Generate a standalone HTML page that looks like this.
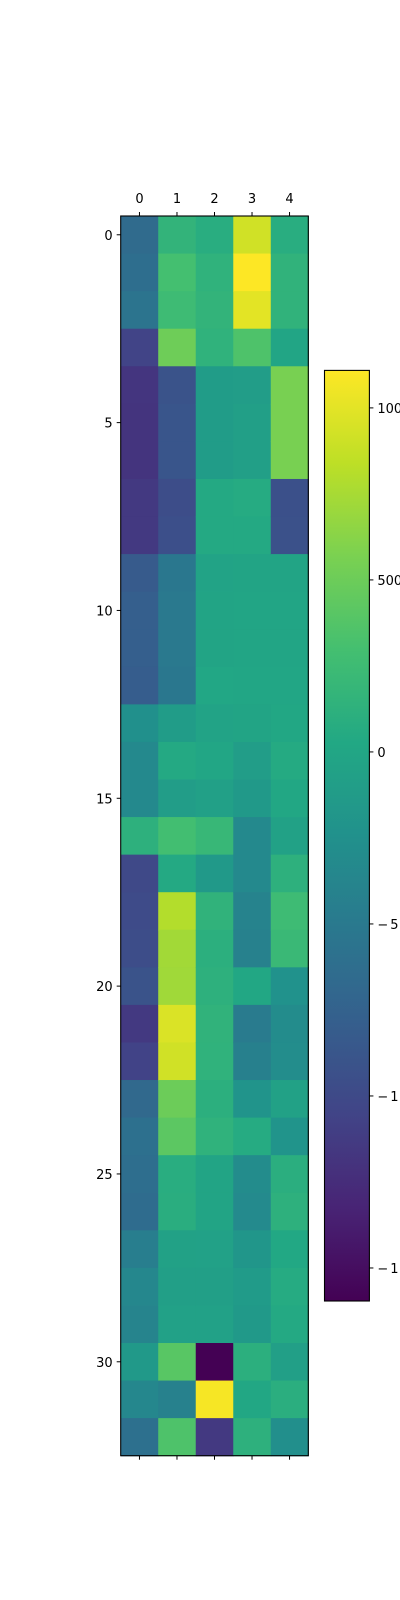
<!DOCTYPE html>
<html><head><meta charset="utf-8"><style>
html,body{margin:0;padding:0;background:#fff;}
svg{display:block;font-family:"DejaVu Sans","Liberation Sans",sans-serif;}
</style></head><body>
<svg id="chart" width="400" height="1600" viewBox="0 0 400 1600" xmlns="http://www.w3.org/2000/svg"></svg>
<script>
const columns = [0,1,2,3,4];
const rowTicks = [0,5,10,15,20,25,30];
const cbTicks = [1000,500,0,-500,-1000,-1500];
const cbTickLabels = ["1000","500","0","\u2212500","\u22121000","\u22121500"];
const col0 = [-650,-620,-560,-1050,-1180,-1190,-1190,-1150,-1150,-820,-780,-780,-800,-250,-330,-330,120,-1000,-980,-960,-900,-1150,-1060,-680,-600,-620,-640,-450,-350,-380,-150,-350,-600];
const col1 = [160,300,250,510,-900,-880,-880,-960,-940,-520,-500,-500,-520,-120,40,-100,280,40,800,730,720,960,920,500,420,80,90,-50,-80,-60,400,-420,350];
const col2 = [80,140,160,140,-120,-120,-120,40,40,-30,-20,-20,10,-30,0,-70,200,-150,150,110,120,150,140,110,140,-20,-20,-60,-80,-60,-1600,1080,-1150];
const col3 = [920,1110,1000,350,-100,-80,-80,60,40,-20,-10,-10,0,-20,-100,-150,-330,-330,-400,-420,20,-480,-430,-210,60,-300,-320,-180,-130,-150,110,20,120];
const col4 = [80,150,150,-10,560,560,560,-930,-920,-20,-10,-10,0,20,50,20,-50,120,250,220,-230,-300,-290,-50,-210,100,120,30,60,40,-80,100,-270];
const series = [col0,col1,col2,col3,col4];
const vmin = -1596, vmax = 1109;

const VIR = ["#440154","#482475","#414487","#355f8d","#2a788e","#21918c","#22a884","#44bf70","#7ad151","#bddf26","#fde725"];
function hex(h){return [parseInt(h.slice(1,3),16),parseInt(h.slice(3,5),16),parseInt(h.slice(5,7),16)];}
function viridis(t){t=Math.max(0,Math.min(1,t));const p=t*(VIR.length-1);const i=Math.min(VIR.length-2,Math.floor(p));const f=p-i;const a=hex(VIR[i]),b=hex(VIR[i+1]);return "rgb("+a.map((v,k)=>Math.round(v+(b[k]-v)*f)).join(",")+")";}
function colorOf(v){return viridis((v-vmin)/(vmax-vmin));}

const L=120.7,R=308.3,T=216,B=1455.7;
const nRows=col0.length, nCols=columns.length;
const cw=(R-L)/nCols, rh=(B-T)/nRows;
function xPos(c){return L+c*cw;}
function yPos(r){return T+r*rh;}
const CL=324.5,CR=369.4,CT=370.4,CB=1301;
function cbY(v){return CB-(v-vmin)/(vmax-vmin)*(CB-CT);}

const svg=document.getElementById('chart');
const NS="http://www.w3.org/2000/svg";
function mk(tag,attrs,parent){const e=document.createElementNS(NS,tag);for(const k in attrs)e.setAttribute(k,attrs[k]);(parent||svg).appendChild(e);return e;}

const cells=mk('g',{});


for(let c=0;c<nCols;c++){for(let r=0;r<nRows;r++){
  const rect=mk('rect',{x:xPos(c),y:yPos(r),width:cw+0.6,height:rh+0.6,fill:colorOf(series[c][r])},cells);
  
  
}}
const frame=mk('rect',{x:L,y:T,width:R-L,height:B-T,fill:'none',stroke:'#000','stroke-width':1.1});



for(let c=0;c<nCols;c++){
  const cx=xPos(c)+cw/2;
  const t1=mk('line',{x1:cx,x2:cx,y1:T,y2:T-4,stroke:'#000','stroke-width':1});
  
  
  const t2=mk('line',{x1:cx,x2:cx,y1:B,y2:B+4,stroke:'#000','stroke-width':1});
  
  
  const tx=mk('text',{x:cx,y:203,'font-size':13,'text-anchor':'middle',fill:'#000'});
  tx.textContent=String(columns[c]);
  
  
}
for(const r of rowTicks){
  const cy=yPos(r)+rh/2;
  const t=mk('line',{x1:L,x2:L-4,y1:cy,y2:cy,stroke:'#000','stroke-width':1});
  
  
  const tx=mk('text',{x:L-8,y:cy+5,'font-size':13,'text-anchor':'end',fill:'#000'});
  tx.textContent=String(r);
  
  
}

const defs=mk('defs',{});
const grad=mk('linearGradient',{id:'cbg',x1:0,y1:1,x2:0,y2:0},defs);
for(let i=0;i<=20;i++){mk('stop',{offset:i/20,'stop-color':viridis(i/20)},grad);}
const cb=mk('rect',{x:CL,y:CT,width:CR-CL,height:CB-CT,fill:'url(#cbg)',stroke:'#000','stroke-width':1.1});


cbTicks.forEach((v,i)=>{
  const y=cbY(v);
  const t=mk('line',{x1:CR,x2:CR+4,y1:y,y2:y,stroke:'#000','stroke-width':1});
  
  
  const tx=mk('text',{x:CR+8,y:y+5,'font-size':13,fill:'#000','letter-spacing':v<0?'2':'0'});
  tx.textContent=cbTickLabels[i];
  
  
});
</script>
</body></html>
